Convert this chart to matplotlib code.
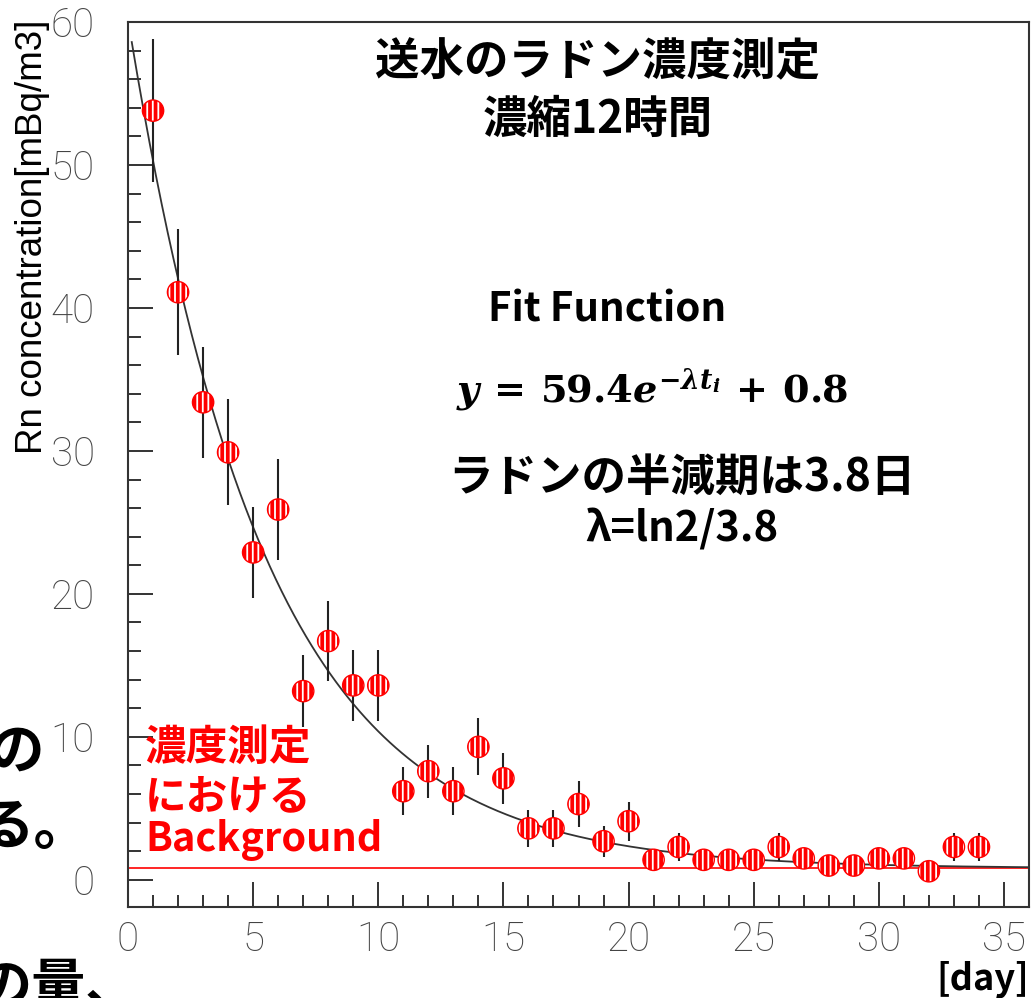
import numpy as np
import matplotlib
matplotlib.use("Agg")
import matplotlib.pyplot as plt

plt.rcParams['font.family'] = ['Noto Sans CJK JP', 'DejaVu Sans']
plt.rcParams['hatch.color'] = 'white'
plt.rcParams['hatch.linewidth'] = 1.3
plt.rcParams['mathtext.fontset'] = 'custom'
plt.rcParams['mathtext.rm'] = 'DejaVu Serif:bold'
plt.rcParams['mathtext.it'] = 'DejaVu Serif:bold:italic'
plt.rcParams['mathtext.bf'] = 'DejaVu Serif:bold'

# measured Rn concentration per day [mBq/m3]
days = np.arange(1, 35)
conc = [53.8, 41.1, 33.4, 29.9, 22.9, 25.9, 13.2, 16.7, 13.6, 13.6,
        6.2, 7.6, 6.2, 9.3, 7.1, 3.6, 3.6, 5.3, 2.7, 4.1,
        1.4, 2.3, 1.4, 1.4, 1.4, 2.3, 1.5, 1.0, 1.0, 1.5,
        1.5, 0.6, 2.3, 2.3]
err = [5.0, 4.4, 3.9, 3.7, 3.2, 3.5, 2.5, 2.8, 2.5, 2.5,
       1.7, 1.85, 1.7, 2.0, 1.8, 1.3, 1.3, 1.6, 1.1, 1.35,
       0.65, 1.0, 0.65, 0.65, 0.65, 1.0, 0.65, 0.6, 0.6, 0.75,
       0.75, 0.5, 1.0, 1.0]

# fit result
amp = 59.4
background = 0.8
half_life = 3.8
fit_start, fit_end = 0.15, 36

W, H = 1036, 998
fig = plt.figure(figsize=(W / 100, H / 100), dpi=100)
ax = fig.add_axes([128 / W, (H - 907) / H, 901 / W, (907 - 22) / H])


def fpos(x, y):
    # pixel position (from top-left) -> figure fraction
    return x / W, 1 - y / H


# background level
ax.axhline(background, color='red', lw=1.2, zorder=2)

# fit curve
lam = np.log(2) / half_life
t = np.linspace(fit_start, fit_end, 300)
ax.plot(t, amp * np.exp(-lam * t) + background, color='#333333', lw=1.3, zorder=3)

# data
ax.errorbar(days, conc, yerr=err, fmt='none', ecolor='#222222', elinewidth=1.5,
            capsize=0, zorder=4)
ax.scatter(days, conc, s=235, facecolor='red', edgecolor='white', hatch='|||',
           linewidth=0, zorder=5)
ax.scatter(days, conc, s=235, facecolor='none', edgecolor='red', linewidth=1.0,
           zorder=6)

ax.set_xlim(0, 36)
ax.set_ylim(-1.9, 60)
ax.set_xticks(np.arange(0, 36, 5))
ax.set_xticks(np.arange(0, 37, 1), minor=True)
ax.set_yticks(np.arange(0, 61, 10))
ax.set_yticks(np.arange(0, 61, 2), minor=True)
ax.tick_params(which='both', direction='in', top=False, right=False,
               color='#333333', width=1.4)
ax.tick_params(which='major', length=18)
ax.tick_params(which='minor', length=9)
ax.tick_params(axis='x', pad=10)
ax.tick_params(axis='y', pad=24)
for lab in ax.get_xticklabels() + ax.get_yticklabels():
    lab.set_family(['Roboto', 'DejaVu Sans'])
    lab.set_fontweight('light')
    lab.set_fontsize(29)
    lab.set_color('#444444')
for sp in ax.spines.values():
    sp.set_color('#333333')
    sp.set_linewidth(1.5)

# axis titles
fig.text(*fpos(33, 20), 'Rn concentration[mBq/m3]', rotation=90, ha='center',
         va='top', fontsize=26.5, family=['Liberation Sans', 'DejaVu Sans'],
         color='black')
fig.text(*fpos(1029, 990), '[day]', ha='right', va='baseline', fontsize=26,
         fontweight='bold')

# annotations
fig.text(*fpos(598, 62), '送水のラドン濃度測定', ha='center', va='center',
         fontsize=32, fontweight='bold')
fig.text(*fpos(598, 120), '濃縮12時間', ha='center', va='center',
         fontsize=32, fontweight='bold')
fig.text(*fpos(488, 310), 'Fit Function', ha='left', va='center',
         fontsize=29, fontweight='bold')
fig.text(*fpos(652, 390), r'$y\,=\,59.4e^{-\lambda t_i}\,+\,0.8$', ha='center',
         va='center', fontsize=27.5)
fig.text(*fpos(682, 478), 'ラドンの半減期は3.8日', ha='center', va='center',
         fontsize=32, fontweight='bold')
fig.text(*fpos(682, 530), 'λ=ln2/3.8', ha='center', va='center',
         fontsize=30, fontweight='bold')
fig.text(*fpos(145, 748), '濃度測定', ha='left', va='center', color='red',
         fontsize=30, fontweight='bold')
fig.text(*fpos(145, 797), 'における', ha='left', va='center', color='red',
         fontsize=30, fontweight='bold')
fig.text(*fpos(145, 840), 'Background', ha='left', va='center', color='red',
         fontsize=28.5, fontweight='bold')

# slide text cut off at the left edge, as in the source slide
fig.text(*fpos(-12, 753), 'の', ha='left', va='center', fontsize=40,
         fontweight='bold')
fig.text(*fpos(-22, 828), 'る。', ha='left', va='center', fontsize=40,
         fontweight='bold')
fig.text(*fpos(-22, 988), 'の量、', ha='left', va='center', fontsize=39,
         fontweight='bold')

fig.savefig('out.png', dpi=100)
